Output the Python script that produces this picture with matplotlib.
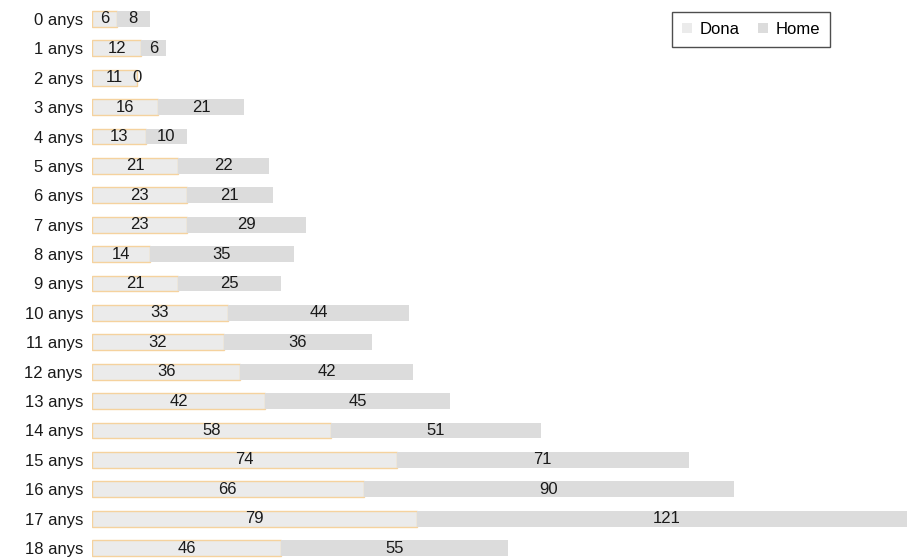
import numpy as np
import matplotlib.pyplot as plt

plt.rcParams['font.family'] = ['Liberation Sans', 'DejaVu Sans']

ages = ['0 anys', '1 anys', '2 anys', '3 anys', '4 anys', '5 anys', '6 anys',
        '7 anys', '8 anys', '9 anys', '10 anys', '11 anys', '12 anys',
        '13 anys', '14 anys', '15 anys', '16 anys', '17 anys', '18 anys']
dona = [6, 12, 11, 16, 13, 21, 23, 23, 14, 21, 33, 32, 36, 42, 58, 74, 66, 79, 46]
home = [8, 6, 0, 21, 10, 22, 21, 29, 35, 25, 44, 36, 42, 45, 51, 71, 90, 121, 55]

dona_color = '#ebebeb'
dona_edge = '#f5d29e'
home_color = '#dcdcdc'
fs = 12

fig = plt.figure(figsize=(9.07, 5.58), dpi=100)
ax = fig.add_axes([92 / 907, 0, 1 - 92 / 907, 1])

y = np.arange(len(ages))
dona = np.array(dona)
home = np.array(home)
h = 0.54

ax.barh(y, dona, height=h, color=dona_color, edgecolor=dona_edge, linewidth=1.0, label='Dona')
ax.barh(y, home, left=dona, height=h, color=home_color, edgecolor='none', label='Home')

for i in range(len(ages)):
    ax.text(dona[i] / 2, y[i], str(dona[i]), ha='center', va='center', fontsize=fs, color='#1a1a1a')
    ax.text(dona[i] + home[i] / 2, y[i], str(home[i]), ha='center', va='center', fontsize=fs, color='#1a1a1a')

ax.set_xlim(0, 198)
ax.set_ylim(18 + 10 / 29.4, -19 / 29.4)
ax.set_yticks(y)
ax.set_yticklabels(ages, fontsize=fs, color='#1a1a1a')
ax.tick_params(axis='y', length=0, pad=6.5)
ax.set_xticks([])
for s in ax.spines.values():
    s.set_visible(False)

leg = ax.legend(loc='upper left', bbox_to_anchor=((672 - 92) / 815, 1 - 12 / 558), ncol=2,
                fontsize=fs, frameon=True, fancybox=False, edgecolor='#222222',
                handlelength=0.6, handleheight=0.6, handletextpad=0.45, columnspacing=1.1,
                borderpad=0.6, borderaxespad=0)
leg.get_frame().set_linewidth(1.0)
for p in leg.get_patches():
    p.set_edgecolor('none')

fig.savefig('out.png', dpi=100)
